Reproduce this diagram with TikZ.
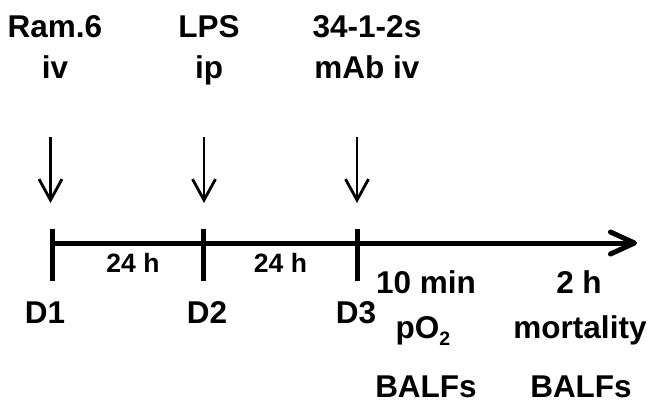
\documentclass[tikz,border=0pt]{standalone}
\usepackage{fontspec}
\setmainfont{Liberation Sans}
\usetikzlibrary{arrows.meta}
\tikzset{
  lbl/.style={font=\bfseries\fontsize{31.5}{36}\selectfont, inner sep=0pt, anchor=base},
  small/.style={font=\bfseries\fontsize{26.5}{30}\selectfont, inner sep=0pt, anchor=base},
  dose/.style={line width=2.8pt, -{Straight Barb[length=21pt,width=23pt,line width=2.8pt]}},
  axis/.style={line width=5pt, -{Straight Barb[length=24pt,width=22pt,round,line width=5pt]}},
  tick/.style={line width=5pt},
}
\begin{document}
\begin{tikzpicture}[x=1pt,y=-1pt]
\useasboundingbox (0,0) rectangle (656,405);
% top labels
\node[lbl] (ram) at (55,37) {Ram.6};
\node[lbl] (ramiv) at (55,78) {iv};
\node[lbl] (lps) at (209,37) {LPS};
\node[lbl] (lpsip) at (209,78) {ip};
\node[lbl] (mab) at (367,37) {34-1-2s};
\node[lbl] (mabiv) at (367,78) {mAb iv};
% coordinates
\coordinate (a1s) at (50.5,137);
\coordinate (a1e) at (50.5,203);
\coordinate (a2s) at (204,137);
\coordinate (a2e) at (204,203);
\coordinate (a3s) at (357,137);
\coordinate (a3e) at (357,203);
\coordinate (t0) at (52.5,243);
\coordinate (tend) at (637,243);
\coordinate (k1a) at (52.5,229);
\coordinate (k1b) at (52.5,281);
\coordinate (k2a) at (203.5,229);
\coordinate (k2b) at (203.5,281);
\coordinate (k3a) at (357,229);
\coordinate (k3b) at (357,281);
% dose arrows
\draw[dose] (a1s) -- (a1e);
\draw[dose] (a2s) -- (a2e);
\draw[dose] (a3s) -- (a3e);
% timeline
\draw[axis] (t0) -- (tend);
\draw[tick] (k1a) -- (k1b);
\draw[tick] (k2a) -- (k2b);
\draw[tick] (k3a) -- (k3b);
% interval labels
\node[small] (h1) at (133,272) {24 h};
\node[small] (h2) at (280.5,272) {24 h};
% day labels
\node[lbl] (d1) at (45,323) {D1};
\node[lbl] (d2) at (207,323) {D2};
\node[lbl] (d3) at (356,323) {D3};
% readouts
\node[lbl] (tenmin) at (426,293) {10 min};
\node[lbl] (po2) at (423,338) {pO\raisebox{-7pt}{\fontsize{19.5}{19.5}\selectfont 2}};
\node[lbl] (balf1) at (426,397) {BALFs};
\node[lbl] (twoh) at (579,293) {2 h};
\node[lbl] (mort) at (580,338) {mortality};
\node[lbl] (balf2) at (581,397) {BALFs};
\end{tikzpicture}
\end{document}
